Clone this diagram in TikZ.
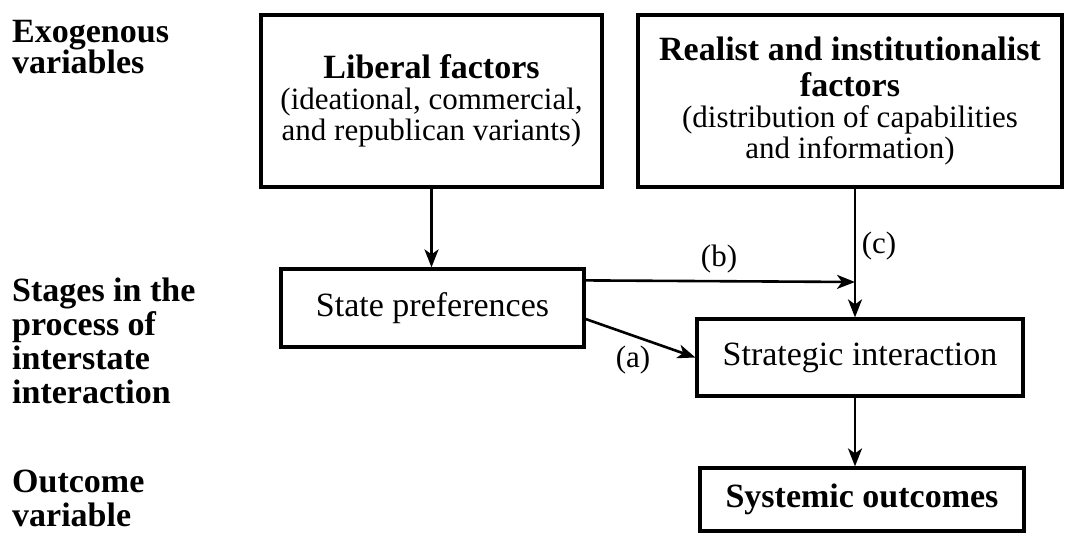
\documentclass[tikz,border=0pt]{standalone}
\usepackage{fontspec}
\setmainfont{Liberation Serif}
\usetikzlibrary{arrows.meta}
\begin{document}
\begin{tikzpicture}[x=1pt, y=-1pt, every node/.style={font=\fontsize{31}{31}\selectfont}]
    % Styles
    \tikzstyle{factor} = [rectangle, draw=black, line width=3.2pt, align=center, inner sep=0pt]
    \tikzstyle{stage} = [rectangle, draw=black, line width=3.2pt, inner sep=0pt, font=\fontsize{34}{34}\selectfont]
    \tikzstyle{arrow} = [line width=2.6pt, -{Stealth[length=18pt, width=14pt, inset=5pt]}]
    \tikzstyle{rowlabel} = [anchor=north west, align=left, inner sep=0pt, font=\fontsize{34}{34}\selectfont\bfseries]
    \tikzstyle{pathlabel} = [inner sep=0pt]

    \useasboundingbox (0,0) rectangle (1073,543);

    % Row labels
    \node (exo) [rowlabel] at (12,20) {Exogenous\\[-3pt]variables};
    \node (stages) [rowlabel] at (12,278) {Stages in the\\process of\\interstate\\interaction};
    \node (outcome) [rowlabel] at (12,470) {Outcome\\variable};

    % Nodes
    \node (liberal) [factor, minimum width=341pt, minimum height=172pt] at (431.5,101)
        {{\bfseries\fontsize{34}{31}\selectfont Liberal factors}\\(ideational, commercial,\\and republican variants)};
    \node (realist) [factor, minimum width=424pt, minimum height=172pt] at (850,101)
        {{\bfseries\fontsize{34}{31}\selectfont Realist and institutionalist}\\[5pt]{\bfseries\fontsize{34}{31}\selectfont factors}\\(distribution of capabilities\\and information)};
    \node (state) [stage, minimum width=303pt, minimum height=78pt] at (432.5,308) {State preferences};
    \node (strat) [stage, minimum width=326pt, minimum height=77pt] at (860,357.5) {Strategic interaction};
    \node (sys) [stage, minimum width=324pt, minimum height=63pt, font=\fontsize{34}{34}\selectfont\bfseries] at (862,499.5) {Systemic outcomes};
    \coordinate (cjoin) at (855,282);

    % Arrows
    \draw [arrow] (liberal.south) -- (liberal.south |- state.north);
    \draw [arrow] ([yshift=-13pt]state.north east) -- (cjoin);
    \draw [arrow] (realist.south -| cjoin) -- (cjoin |- strat.north);
    \draw [arrow] ([yshift=-11pt]state.east) -- (strat.west);
    \draw [arrow] (cjoin |- strat.south) -- (cjoin |- sys.north);

    % Labels
    \node (la) [pathlabel] at (633,360) {(a)};
    \node (lb) [pathlabel] at (719,259) {(b)};
    \node (lc) [pathlabel] at (879,246) {(c)};
\end{tikzpicture}
\end{document}
